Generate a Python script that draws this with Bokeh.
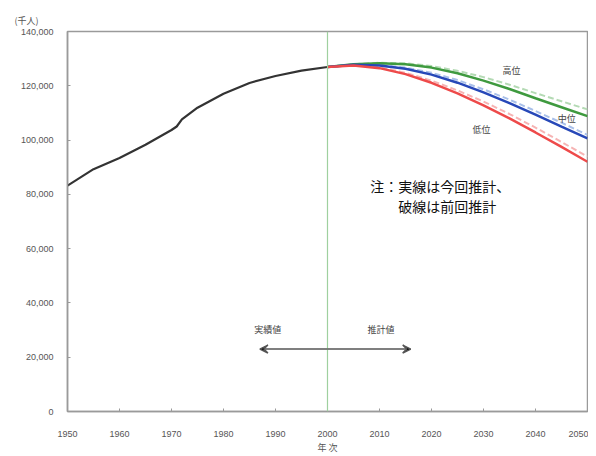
from bokeh.plotting import figure
from bokeh.models import (Range1d, FixedTicker, NumeralTickFormatter, Label, Span,
                          Arrow, VeeHead)
from bokeh.embed import file_html
from bokeh.resources import INLINE

# ---- data (thousands of persons) ----
actual_years = [1950, 1955, 1960, 1965, 1970, 1971, 1972, 1975, 1980, 1985, 1990, 1995, 2000]
actual_pop = [83200, 89276, 93419, 98275, 103720, 105000, 107595, 111940, 117060, 121049,
              123611, 125570, 126926]

proj_years = [2000, 2005, 2010, 2015, 2020, 2025, 2030, 2035, 2040, 2045, 2050]
high_now = [126926, 127900, 128300, 127900, 126700, 124600, 121900, 118800, 115400, 112100, 108800]
mid_now = [126926, 127708, 127473, 126266, 124107, 121136, 117580, 113602, 109338, 104960, 100593]
low_now = [126926, 127500, 126500, 124300, 121100, 117200, 112800, 108000, 102800, 97500, 92000]

high_prev = [126926, 127950, 128500, 128300, 127300, 125500, 123200, 120400, 117300, 114300, 111300]
mid_prev = [126926, 127750, 127650, 126700, 124800, 122100, 118700, 114900, 110700, 106400, 101900]
low_prev = [126926, 127550, 126800, 124800, 121900, 118300, 114200, 109600, 104600, 99300, 93900]

x_ticks = [1950, 1960, 1970, 1980, 1990, 2000, 2010, 2020, 2030, 2040, 2050]
y_ticks = [0, 20000, 40000, 60000, 80000, 100000, 120000, 140000]

JP = "Noto Sans CJK JP"

p = figure(width=588, height=456, output_backend="svg", toolbar_location=None,
           x_range=Range1d(1950, 2050), y_range=Range1d(0, 140000),
           min_border_left=67, min_border_right=1, min_border_top=31, min_border_bottom=40,
           title="(千人)")

p.title.text_font = JP
p.title.text_font_size = "9px"
p.title.text_font_style = "normal"
p.title.text_color = "#555555"
p.title.align = "left"
p.title.offset = -53
p.title.standoff = 10

p.background_fill_color = "white"
p.border_fill_color = "white"
p.outline_line_color = "#9a9a9a"
p.outline_line_width = 1.5
p.xgrid.visible = False
p.ygrid.visible = False

for ax in (p.xaxis[0], p.yaxis[0]):
    ax.axis_line_color = "#9a9a9a"
    ax.axis_line_width = 1.5
    ax.major_tick_in = 3
    ax.major_tick_out = 0
    ax.major_tick_line_color = "#9a9a9a"
    ax.minor_tick_line_color = None
    ax.major_label_text_font = "Liberation Sans"
    ax.major_label_text_font_size = "9px"
    ax.major_label_text_color = "#555555"

p.xaxis.ticker = FixedTicker(ticks=x_ticks)
p.yaxis.ticker = FixedTicker(ticks=y_ticks)
p.yaxis.formatter = NumeralTickFormatter(format="0,0")
p.yaxis.major_label_standoff = 14
p.xaxis.major_label_standoff = 19
p.xaxis.axis_label = "年 次"
p.xaxis.axis_label_text_font = JP
p.xaxis.axis_label_text_font_size = "9px"
p.xaxis.axis_label_text_font_style = "normal"
p.xaxis.axis_label_text_color = "#555555"
p.xaxis.axis_label_standoff = 1

# divider at 2000
p.add_layout(Span(location=2000, dimension="height", line_color="#9fd09f", line_width=1.2))

# previous projections (dashed, lighter)
p.line(proj_years, high_prev, line_color="#b4dab4", line_width=2, line_dash="6 3")
p.line(proj_years, mid_prev, line_color="#a9c0ea", line_width=2, line_dash="6 3")
p.line(proj_years, low_prev, line_color="#f6b4b4", line_width=2, line_dash="6 3")

# current projections (solid)
p.line(proj_years, high_now, line_color="#3f9a3f", line_width=2.5)
p.line(proj_years, mid_now, line_color="#2748b8", line_width=2.5)
p.line(proj_years, low_now, line_color="#ee4a4a", line_width=2.5)

# actual
p.line(actual_years, actual_pop, line_color="#333333", line_width=2.2)

# labels
def lab(x, y, t, size="9px", color="#444444", align="center"):
    p.add_layout(Label(x=x, y=y, text=t, text_font=JP, text_font_size=size,
                       text_color=color, text_align=align, text_baseline="middle"))

lab(2035.4, 125800, "高位")
lab(2046.0, 108000, "中位")
lab(2029.6, 104000, "低位")
lab(1988.5, 30200, "実績値")
lab(2010.3, 30200, "推計値")
lab(2008.2, 82900, "注：実線は今回推計、", size="14px", color="#111111", align="left")
lab(2013.6, 75600, "破線は前回推計", size="14px", color="#111111", align="left")

p.add_layout(Arrow(x_start=2000, y_start=23000, x_end=1987, y_end=23000,
                   line_color="#555555", line_width=1.5,
                   end=VeeHead(size=8, line_color="#555555", line_width=1.5)))
p.add_layout(Arrow(x_start=2000, y_start=23000, x_end=2016, y_end=23000,
                   line_color="#555555", line_width=1.5,
                   end=VeeHead(size=8, line_color="#555555", line_width=1.5)))

open("out.html", "w").write(file_html(p, INLINE))
